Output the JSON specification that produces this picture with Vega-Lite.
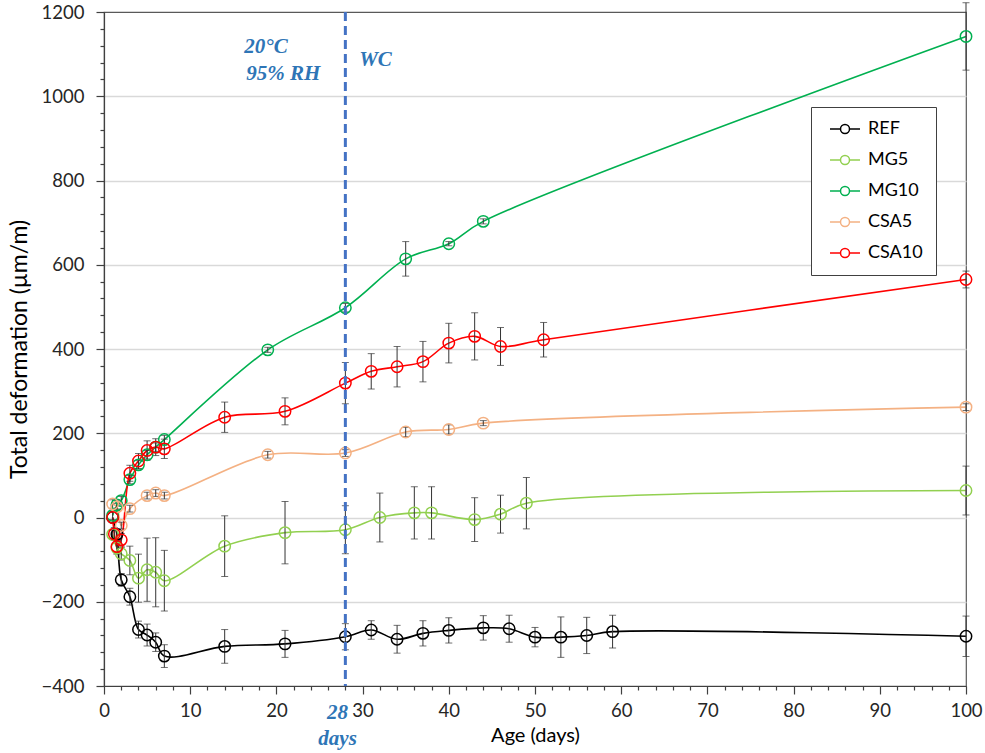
{
  "$schema": "https://vega.github.io/schema/vega-lite/v6.json",
  "width": 862,
  "height": 674,
  "autosize": {"type": "none"},
  "padding": {"left": 104, "top": 12, "right": 19, "bottom": 67},
  "background": "white",
  "config": {
    "view": {"stroke": "#595959", "strokeWidth": 1.2},
    "font": "Lato",
    "axis": {"labelFont": "Lato", "titleFont": "Lato", "labelColor": "#262626", "titleColor": "#000000", "labelFontSize": 18.5, "titleFontSize": 21, "titleFontWeight": "normal", "domainColor": "#404040", "tickColor": "#404040", "domainWidth": 1.2, "tickWidth": 1.2, "labelOverlap": false}
  },
  "datasets": {
    "series": [
      {"day": 1, "v": 0, "e": 0, "s": "REF"},
      {"day": 1.5, "v": -40, "e": 10, "s": "REF"},
      {"day": 2, "v": -148, "e": 15, "s": "REF"},
      {"day": 3, "v": -188, "e": 20, "s": "REF"},
      {"day": 4, "v": -266, "e": 20, "s": "REF"},
      {"day": 5, "v": -279, "e": 26, "s": "REF"},
      {"day": 6, "v": -296, "e": 22, "s": "REF"},
      {"day": 7, "v": -329, "e": 27, "s": "REF"},
      {"day": 14, "v": -306, "e": 40, "s": "REF"},
      {"day": 21, "v": -300, "e": 32, "s": "REF"},
      {"day": 28, "v": -283, "e": 31, "s": "REF"},
      {"day": 31, "v": -267, "e": 22, "s": "REF"},
      {"day": 34, "v": -289, "e": 33, "s": "REF"},
      {"day": 37, "v": -275, "e": 30, "s": "REF"},
      {"day": 40, "v": -268, "e": 30, "s": "REF"},
      {"day": 44, "v": -262, "e": 29, "s": "REF"},
      {"day": 47, "v": -264, "e": 32, "s": "REF"},
      {"day": 50, "v": -284, "e": 23, "s": "REF"},
      {"day": 53, "v": -284, "e": 48, "s": "REF"},
      {"day": 56, "v": -280, "e": 43, "s": "REF"},
      {"day": 59, "v": -271, "e": 39, "s": "REF"},
      {"day": 100, "v": -282, "e": 48, "s": "REF"},
      {"day": 1, "v": -40, "e": 10, "s": "MG5"},
      {"day": 1.5, "v": -72, "e": 15, "s": "MG5"},
      {"day": 2, "v": -86, "e": 15, "s": "MG5"},
      {"day": 3, "v": -102, "e": 34, "s": "MG5"},
      {"day": 4, "v": -144, "e": 57, "s": "MG5"},
      {"day": 5, "v": -124, "e": 75, "s": "MG5"},
      {"day": 6, "v": -130, "e": 82, "s": "MG5"},
      {"day": 7, "v": -150, "e": 72, "s": "MG5"},
      {"day": 14, "v": -68, "e": 72, "s": "MG5"},
      {"day": 21, "v": -36, "e": 74, "s": "MG5"},
      {"day": 28, "v": -29, "e": 57, "s": "MG5"},
      {"day": 32, "v": 0, "e": 58, "s": "MG5"},
      {"day": 36, "v": 11, "e": 62, "s": "MG5"},
      {"day": 38, "v": 11, "e": 62, "s": "MG5"},
      {"day": 43, "v": -5, "e": 52, "s": "MG5"},
      {"day": 46, "v": 8, "e": 45, "s": "MG5"},
      {"day": 49, "v": 34, "e": 61, "s": "MG5"},
      {"day": 100, "v": 64, "e": 58, "s": "MG5"},
      {"day": 1, "v": 5, "e": 10, "s": "MG10"},
      {"day": 1.5, "v": 30, "e": 10, "s": "MG10"},
      {"day": 2, "v": 40, "e": 10, "s": "MG10"},
      {"day": 3, "v": 90, "e": 10, "s": "MG10"},
      {"day": 4, "v": 125, "e": 10, "s": "MG10"},
      {"day": 5, "v": 149, "e": 10, "s": "MG10"},
      {"day": 6, "v": 167, "e": 10, "s": "MG10"},
      {"day": 7, "v": 185, "e": 10, "s": "MG10"},
      {"day": 19, "v": 398, "e": 6, "s": "MG10"},
      {"day": 28, "v": 498, "e": 10, "s": "MG10"},
      {"day": 35, "v": 614, "e": 41, "s": "MG10"},
      {"day": 40, "v": 650, "e": 5, "s": "MG10"},
      {"day": 44, "v": 703, "e": 6, "s": "MG10"},
      {"day": 100, "v": 1142, "e": 80, "s": "MG10"},
      {"day": 1, "v": 32, "e": 10, "s": "CSA5"},
      {"day": 1.5, "v": 25, "e": 8, "s": "CSA5"},
      {"day": 2, "v": -19, "e": 8, "s": "CSA5"},
      {"day": 3, "v": 21, "e": 8, "s": "CSA5"},
      {"day": 5, "v": 52, "e": 8, "s": "CSA5"},
      {"day": 6, "v": 58, "e": 8, "s": "CSA5"},
      {"day": 7, "v": 52, "e": 8, "s": "CSA5"},
      {"day": 19, "v": 149, "e": 8, "s": "CSA5"},
      {"day": 28, "v": 153, "e": 8, "s": "CSA5"},
      {"day": 35, "v": 203, "e": 11, "s": "CSA5"},
      {"day": 40, "v": 209, "e": 11, "s": "CSA5"},
      {"day": 44, "v": 224, "e": 6, "s": "CSA5"},
      {"day": 100, "v": 262, "e": 8, "s": "CSA5"},
      {"day": 1, "v": 0, "e": 0, "s": "CSA10"},
      {"day": 1.2, "v": -39, "e": 15, "s": "CSA10"},
      {"day": 1.5, "v": -69, "e": 15, "s": "CSA10"},
      {"day": 2, "v": -53, "e": 15, "s": "CSA10"},
      {"day": 3, "v": 105, "e": 19, "s": "CSA10"},
      {"day": 4, "v": 134, "e": 18, "s": "CSA10"},
      {"day": 5, "v": 159, "e": 23, "s": "CSA10"},
      {"day": 6, "v": 167, "e": 20, "s": "CSA10"},
      {"day": 7, "v": 163, "e": 23, "s": "CSA10"},
      {"day": 14, "v": 238, "e": 36, "s": "CSA10"},
      {"day": 21, "v": 252, "e": 32, "s": "CSA10"},
      {"day": 28, "v": 319, "e": 49, "s": "CSA10"},
      {"day": 31, "v": 347, "e": 42, "s": "CSA10"},
      {"day": 34, "v": 358, "e": 48, "s": "CSA10"},
      {"day": 37, "v": 370, "e": 48, "s": "CSA10"},
      {"day": 40, "v": 414, "e": 47, "s": "CSA10"},
      {"day": 43, "v": 430, "e": 56, "s": "CSA10"},
      {"day": 46, "v": 406, "e": 45, "s": "CSA10"},
      {"day": 51, "v": 422, "e": 41, "s": "CSA10"},
      {"day": 100, "v": 565, "e": 20, "s": "CSA10"}
    ],
    "notes": [
      {"day": 18.8, "v": 1116, "t": "20°C"},
      {"day": 20.8, "v": 1052, "t": "95% RH"},
      {"day": 31.5, "v": 1085, "t": "WC"},
      {"day": 27.1, "v": -465, "t": "28"},
      {"day": 27.1, "v": -526, "t": "days"}
    ],
    "marker": [{"day": 28}]
  },
  "layer": [
    {
      "data": {"name": "series"},
      "mark": {"type": "line", "interpolate": "catmull-rom", "strokeWidth": 1.6},
      "encoding": {
        "x": {"field": "day", "type": "quantitative", "scale": {"domain": [0, 100], "nice": false},
          "axis": {"title": "Age (days)", "titleFontSize": 20, "values": [0,2,4,6,8,10,12,14,16,18,20,22,24,26,28,30,32,34,36,38,40,42,44,46,48,50,52,54,56,58,60,62,64,66,68,70,72,74,76,78,80,82,84,86,88,90,92,94,96,98,100],
            "tickCount": 500, "format": "d",
            "labelExpr": "datum.value % 10 === 0 ? datum.label : ''",
            "tickSize": {"condition": {"test": "datum.value % 10 === 0", "value": 8}, "value": 4},
            "grid": false, "labelPadding": 7, "titlePadding": 6, "labelFlush": false}},
        "y": {"field": "v", "type": "quantitative", "scale": {"domain": [-400, 1200], "nice": false},
          "axis": {"title": "Total deformation (µm/m)", "titleFontSize": 23, "values": [-400,-360,-320,-280,-240,-200,-160,-120,-80,-40,0,40,80,120,160,200,240,280,320,360,400,440,480,520,560,600,640,680,720,760,800,840,880,920,960,1000,1040,1080,1120,1160,1200],
            "tickCount": 500,
            "labelExpr": "datum.value % 200 === 0 ? datum.label : ''",
            "format": "d",
            "tickSize": {"condition": {"test": "datum.value % 200 === 0", "value": 8}, "value": 4},
            "grid": true, "gridColor": "#d9d9d9", "gridWidth": 1.5,
            "gridOpacity": {"condition": {"test": "datum.value % 200 === 0 && datum.value > -400 && datum.value < 1200", "value": 1}, "value": 0},
            "labelPadding": 12, "titlePadding": 10, "labelFlush": false}},
        "color": {"field": "s", "type": "nominal",
          "scale": {"domain": ["REF", "MG5", "MG10", "CSA5", "CSA10"], "range": ["#000000", "#92d050", "#00b050", "#f4b183", "#ff0000"]},
          "legend": {"title": null, "orient": "none", "legendX": 707, "legendY": 95,
            "symbolType": "M-2,0L-0.6,0M0.6,0L2,0M-0.6,0A0.6,0.6,0,1,1,0.6,0A0.6,0.6,0,1,1,-0.6,0",
            "symbolSize": 225, "symbolStrokeWidth": 1.5, "symbolFillColor": "transparent", "symbolOffset": 12,
            "labelFontSize": 18, "labelFont": "Lato", "labelColor": "#000000", "labelOffset": 14,
            "rowPadding": 13, "padding": 13, "strokeColor": "#404040", "fillColor": "white", "offset": 0}},
        "detail": {"field": "s"}
      }
    },
    {
      "data": {"name": "series"},
      "transform": [{"filter": "datum.e > 0"}],
      "mark": {"type": "errorbar", "ticks": {"size": 7, "color": "#333333", "strokeWidth": 1}, "rule": {"color": "#333333", "strokeWidth": 1}},
      "encoding": {
        "x": {"field": "day", "type": "quantitative", "title": "Age (days)"},
        "y": {"field": "v", "type": "quantitative", "title": "Total deformation (µm/m)"},
        "yError": {"field": "e"},
        "detail": {"field": "s"}
      }
    },
    {
      "data": {"name": "series"},
      "mark": {"type": "point", "shape": "circle", "filled": false, "size": 130, "strokeWidth": 1.5, "opacity": 1},
      "encoding": {
        "x": {"field": "day", "type": "quantitative", "title": "Age (days)"},
        "y": {"field": "v", "type": "quantitative", "title": "Total deformation (µm/m)"},
        "color": {"field": "s", "type": "nominal"}
      }
    },
    {
      "data": {"name": "marker"},
      "mark": {"type": "rule", "color": "#4472c4", "strokeWidth": 3, "strokeDash": [9, 5]},
      "encoding": {"x": {"field": "day", "type": "quantitative", "title": "Age (days)"}}
    },
    {
      "data": {"name": "notes"},
      "mark": {"type": "text", "font": "Liberation Serif", "fontSize": 21, "fontWeight": "bold", "fontStyle": "italic", "color": "#2e75b6", "baseline": "middle", "align": "center"},
      "encoding": {
        "x": {"field": "day", "type": "quantitative", "title": "Age (days)"},
        "y": {"field": "v", "type": "quantitative", "title": "Total deformation (µm/m)"},
        "text": {"field": "t"}
      }
    }
  ]
}
